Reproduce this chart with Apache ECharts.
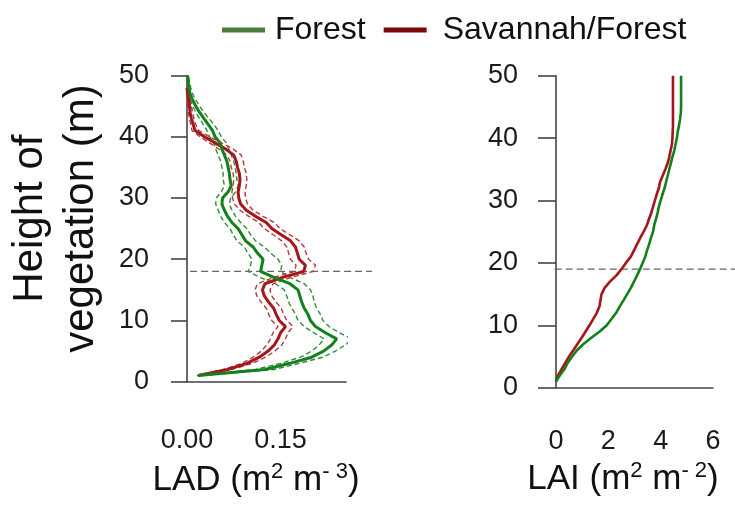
<!DOCTYPE html>
<html>
<head>
<meta charset="utf-8">
<script src="https://cdn.jsdelivr.net/npm/echarts@6/dist/echarts.min.js"></script>
<style>
html,body{margin:0;padding:0;background:#fff;}
#chart{width:735px;height:507px;}
</style>
</head>
<body>
<div id="chart"></div>
<script>
// ---------- DATA ----------
const heights = [1,2,3,4,5,6,7,8,9,10,11,12,13,14,15,16,17,18,19,20,21,22,23,24,25,26,27,28,29,30,31,32,33,34,35,36,37,38,39,40,41,42,43,44,45,46,47,48,49,50];

// Leaf area density (m2 m-3), Forest
const forestLAD = [0.018,0.125,0.165,0.200,0.219,0.232,0.240,0.222,0.206,0.198,
  0.194,0.188,0.184,0.181,0.178,0.165,0.140,0.118,0.120,0.122,
  0.113,0.106,0.094,0.088,0.082,0.072,0.065,0.060,0.056,0.057,
  0.066,0.071,0.069,0.068,0.066,0.064,0.060,0.056,0.053,0.045,
  0.041,0.034,0.027,0.020,0.014,0.009,0.005,0.003,0.002,0.001];
const forestLADLow = [0.016,0.110,0.150,0.182,0.200,0.212,0.220,0.203,0.188,0.178,
  0.174,0.168,0.163,0.160,0.156,0.142,0.118,0.098,0.102,0.104,
  0.098,0.092,0.080,0.074,0.069,0.060,0.054,0.050,0.046,0.047,
  0.055,0.060,0.058,0.058,0.056,0.054,0.050,0.046,0.043,0.036,
  0.032,0.026,0.020,0.014,0.009,0.005,0.002,0.001,0.000,0.000];
const forestLADHigh = [0.020,0.140,0.180,0.218,0.238,0.254,0.264,0.244,0.228,0.218,
  0.214,0.208,0.204,0.202,0.198,0.188,0.166,0.150,0.152,0.146,
  0.134,0.124,0.110,0.102,0.096,0.086,0.078,0.072,0.068,0.070,
  0.078,0.082,0.080,0.079,0.077,0.075,0.071,0.067,0.063,0.055,
  0.050,0.043,0.035,0.027,0.020,0.014,0.009,0.006,0.004,0.002];

// Leaf area density (m2 m-3), Savannah/Forest
const savLAD = [0.018,0.065,0.096,0.116,0.130,0.140,0.146,0.150,0.158,0.148,
  0.143,0.139,0.131,0.124,0.121,0.125,0.152,0.187,0.190,0.180,
  0.177,0.174,0.166,0.151,0.136,0.127,0.110,0.095,0.086,0.083,
  0.082,0.084,0.085,0.084,0.081,0.079,0.075,0.062,0.045,0.028,
  0.013,0.010,0.007,0.005,0.004,0.003,0.001,0.000];
const savLADLow = [0.016,0.058,0.088,0.106,0.119,0.128,0.134,0.138,0.146,0.136,
  0.131,0.127,0.119,0.112,0.109,0.113,0.138,0.172,0.175,0.166,
  0.163,0.160,0.152,0.138,0.124,0.115,0.099,0.085,0.076,0.073,
  0.072,0.074,0.075,0.074,0.071,0.069,0.064,0.051,0.036,0.021,
  0.008,0.006,0.004,0.002,0.001,0.001,0.000,0.000];
const savLADHigh = [0.020,0.072,0.105,0.126,0.141,0.152,0.158,0.162,0.170,0.160,
  0.155,0.151,0.143,0.136,0.133,0.138,0.166,0.202,0.206,0.195,
  0.191,0.188,0.180,0.165,0.149,0.140,0.122,0.106,0.097,0.094,
  0.093,0.095,0.096,0.095,0.092,0.090,0.087,0.074,0.055,0.036,
  0.019,0.014,0.011,0.009,0.007,0.005,0.003,0.001];

// Cumulative leaf area index (m2 m-2)
const forestLAI = [0.00,0.15,0.33,0.45,0.62,0.80,1.05,1.35,1.67,1.94,
  2.12,2.30,2.43,2.58,2.72,2.86,2.98,3.10,3.21,3.31,
  3.41,3.48,3.56,3.63,3.71,3.75,3.82,3.88,3.93,4.00,
  4.07,4.15,4.21,4.27,4.33,4.39,4.45,4.52,4.57,4.62,
  4.65,4.70,4.74,4.77,4.78,4.78,4.78,4.78,4.78,4.78];
const savLAI = [0.00,0.08,0.22,0.36,0.50,0.66,0.82,0.98,1.13,1.28,
  1.42,1.56,1.66,1.70,1.74,1.86,2.06,2.31,2.50,2.67,
  2.86,2.98,3.10,3.22,3.35,3.47,3.55,3.64,3.71,3.78,
  3.85,3.93,3.98,4.08,4.18,4.27,4.33,4.38,4.43,4.45,
  4.46,4.47,4.47,4.47,4.47,4.47,4.47,4.47,4.47,4.47];

const ladTicks = [0, 0.15];
const laiTicks = [0, 2, 4, 6];
const refHeightLAD = 18;
const refHeightLAI = 19;
const refLineLADx = [0.005, 0.297];
const refLineLAIx = [-0.05, 6.85];

// ---------- CHART ----------
const FONT = 'Liberation Sans, Arial, sans-serif';
const GREEN = '#13801b';
const RED = '#a3161b';
const GREEN_D = '#2f8f36';
const RED_D = '#b8383a';
const AX = '#444';

function pairs(vals) { return vals.map((v, i) => [v, heights[i]]); }

function lineSeries(name, vals, xi, color, width, dashed) {
  return {
    name: name, type: 'line', xAxisIndex: xi, yAxisIndex: xi,
    data: pairs(vals), symbol: 'none', showSymbol: false, clip: false,
    silent: true, animation: false,
    lineStyle: { color: color, width: width, type: dashed ? [5, 3] : 'solid' },
    itemStyle: { color: color },
    z: dashed ? 2 : 3
  };
}

function refSeries(xs, h, xi) {
  return {
    name: 'ref' + xi, type: 'line', xAxisIndex: xi, yAxisIndex: xi,
    data: [[xs[0], h], [xs[1], h]], symbol: 'none', clip: false, silent: true, animation: false,
    lineStyle: { color: '#666', width: 1.3, type: [7, 4] }, z: 1
  };
}

const axisLineStyle = { show: true, lineStyle: { color: AX, width: 1.6 } };
const tickLabel = { fontSize: 27, color: '#1a1a1a', fontFamily: FONT, margin: 34 };
const nameStyle = {
  fontSize: 35, color: '#111', fontFamily: FONT, lineHeight: 40,
  rich: { sup: { fontSize: 22, verticalAlign: 'top', lineHeight: 40, color: '#111', fontFamily: FONT } }
};
const hiddenAxis = { show: false, splitLine: { show: false } };

const option = {
  animation: false,
  backgroundColor: '#fff',
  legend: {
    left: 217, top: 9, icon: 'rect', itemWidth: 43, itemHeight: 5, itemGap: 18,
    selectedMode: false,
    textStyle: { fontSize: 32, color: '#111', fontFamily: FONT, padding: [0, 0, 16, 5] },
    data: [
      { name: 'Forest', itemStyle: { color: '#4a7c38' } },
      { name: 'Savannah/Forest', itemStyle: { color: '#7a0a0a' },
        textStyle: { padding: [0, 0, 16, 11] } }
    ]
  },
  grid: [
    { left: 187, top: 75.5, width: 159, height: 306.2, outerBoundsMode: 'none', containLabel: false },
    { left: 556, top: 75.7, width: 157, height: 312, outerBoundsMode: 'none', containLabel: false },
    // wider helper grids carrying the dashed reference lines past the axes
    { left: 187, top: 75.5, width: 185, height: 306.2, outerBoundsMode: 'none', containLabel: false, show: false },
    { left: 554.7, top: 75.7, width: 180.3, height: 312, outerBoundsMode: 'none', containLabel: false, show: false }
  ],
  xAxis: [
    {
      type: 'value', gridIndex: 0, min: 0, max: 0.255, interval: 0.15, offset: 11,
      axisLine: axisLineStyle, axisTick: { show: false }, splitLine: { show: false },
      axisLabel: Object.assign({}, tickLabel, {
        formatter: v => ladTicks.some(t => Math.abs(t - v) < 1e-9) ? v.toFixed(2) : ''
      }),
      name: 'LAD (m{sup|2} m{sup|- 3})', nameLocation: 'middle', nameGap: 68,
      nameTextStyle: Object.assign({}, nameStyle, { padding: [0, 21, 0, 0] })
    },
    {
      type: 'value', gridIndex: 1, min: 0, max: 6, interval: 2, offset: 6,
      axisLine: axisLineStyle, axisTick: { show: false }, splitLine: { show: false },
      axisLabel: Object.assign({}, tickLabel, {
        formatter: v => laiTicks.indexOf(v) >= 0 ? String(v) : ''
      }),
      name: 'LAI (m{sup|2} m{sup|- 2})', nameLocation: 'middle', nameGap: 62,
      nameTextStyle: Object.assign({}, nameStyle, { padding: [0, 23, 0, 0] })
    },
    Object.assign({ type: 'value', gridIndex: 2, min: 0, max: refLineLADx[1] }, hiddenAxis),
    Object.assign({ type: 'value', gridIndex: 3, min: refLineLAIx[0], max: refLineLAIx[1] }, hiddenAxis)
  ],
  yAxis: [
    {
      type: 'value', gridIndex: 0, min: 0, max: 50, interval: 10, offset: 4,
      axisLine: axisLineStyle, axisTick: { show: true, length: 16, lineStyle: { color: AX, width: 1.6 } },
      splitLine: { show: false }, axisLabel: tickLabel,
      name: 'Height of\nvegetation (m)', nameLocation: 'middle', nameRotate: 90, nameGap: 76,
      nameTextStyle: { fontSize: 42, color: '#111', fontFamily: FONT, lineHeight: 51, padding: [0, 0, 0, 20] }
    },
    {
      type: 'value', gridIndex: 1, min: 0, max: 50, interval: 10, offset: 4,
      axisLine: axisLineStyle, axisTick: { show: true, length: 18, lineStyle: { color: AX, width: 1.6 } },
      splitLine: { show: false }, axisLabel: tickLabel
    },
    Object.assign({ type: 'value', gridIndex: 2, min: 0, max: 50 }, hiddenAxis),
    Object.assign({ type: 'value', gridIndex: 3, min: 0, max: 50 }, hiddenAxis)
  ],
  series: [
    refSeries(refLineLADx, refHeightLAD, 2),
    refSeries(refLineLAIx, refHeightLAI, 3),
    lineSeries('Forest band low', forestLADLow, 0, GREEN_D, 1.4, true),
    lineSeries('Forest band high', forestLADHigh, 0, GREEN_D, 1.4, true),
    lineSeries('Savannah band low', savLADLow, 0, RED_D, 1.4, true),
    lineSeries('Savannah band high', savLADHigh, 0, RED_D, 1.4, true),
    lineSeries('Savannah/Forest', savLAD, 0, RED, 3, false),
    lineSeries('Forest', forestLAD, 0, GREEN, 3, false),
    lineSeries('Savannah/Forest', savLAI, 1, RED, 2.6, false),
    lineSeries('Forest', forestLAI, 1, GREEN, 2.6, false)
  ]
};

const chart = echarts.init(document.getElementById('chart'), null, { renderer: 'canvas' });
chart.setOption(option);
</script>
</body>
</html>
